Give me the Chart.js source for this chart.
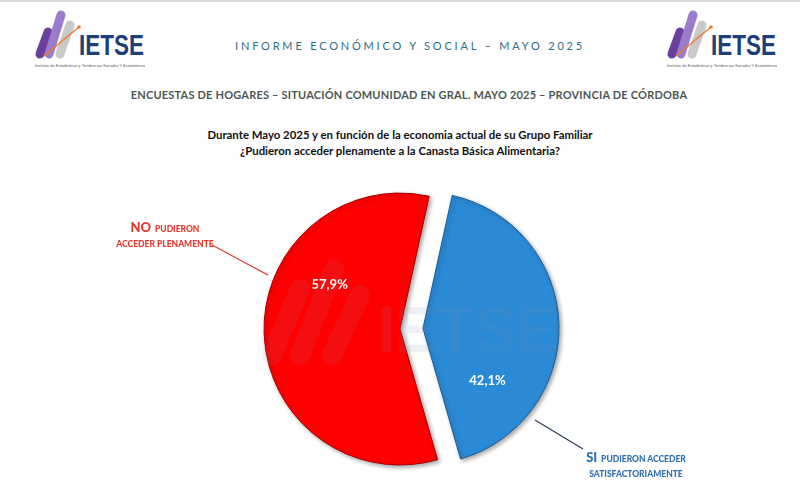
<!DOCTYPE html>
<html lang="es">
<head>
<meta charset="UTF-8">
<title>Canasta Básica Alimentaria - Mayo 2025</title>
<script src="https://cdn.jsdelivr.net/npm/chart.js"></script>
<style>
  html, body { margin: 0; padding: 0; background: #fff; }
  body { width: 800px; height: 499px; position: relative; overflow: hidden; font-family: Lato, "Open Sans", sans-serif; border-top: 2px solid #d9d9d9; box-sizing: border-box; }
  .abs { position: absolute; }
  .logo { position: absolute; top: 8px; width: 112px; height: 62px; }
  #h1 { left: 0; width: 820px; top: 37px; text-align: center; font-size: 11px; letter-spacing: 2.8px; color: #2f6c86; }
  #h2 { left: 0; width: 818px; top: 86px; text-align: center; font-size: 11px; font-weight: bold; color: #4b5753; letter-spacing: 0.2px; }
  #q { left: 0; width: 800px; top: 125px; text-align: center; font-size: 11.4px; font-weight: bold; color: #111; line-height: 16px; }
  #chartBox { left: 200px; top: 127px; width: 400px; height: 400px; }
  .lbl { font-weight: 900; text-align: center; line-height: 15px; }
  .lbl .big { font-size: 13px; }
  .lbl .sm { font-size: 8.5px; }
  #lblNo { left: 104px; top: 216px; width: 122px; color: #e8362b; }
  #lblSi { left: 570px; top: 446px; width: 132px; color: #2f6fae; }
  .lbl div { height: 15px; }
</style>
</head>
<body>
<svg class="logo" style="left:34px" viewBox="0 0 112 62" id="logoL"></svg>
<svg class="logo" style="left:666px" viewBox="0 0 112 62" id="logoR"></svg>

<div class="abs" id="h1">INFORME ECONÓMICO Y SOCIAL – MAYO 2025</div>
<div class="abs" id="h2">ENCUESTAS DE HOGARES – SITUACIÓN COMUNIDAD EN GRAL. MAYO 2025 – PROVINCIA DE CÓRDOBA</div>
<div class="abs" id="q">Durante Mayo 2025 y en función de la economia actual de su Grupo Familiar<br>¿Pudieron acceder plenamente a la Canasta Básica Alimentaria?</div>

<div class="abs" id="chartBox"><canvas id="pie"></canvas></div>

<svg class="abs" style="left:0;top:0" width="800" height="499">
  <line x1="212" y1="243" x2="268" y2="273" stroke="#e8362b" stroke-width="1.2"/>
  <line x1="535" y1="418" x2="583" y2="447" stroke="#2b3d5a" stroke-width="1.2"/>
</svg>

<div class="abs lbl" id="lblNo"><div><span class="big">NO</span> <span class="sm">PUDIERON</span></div><div><span class="sm">ACCEDER PLENAMENTE</span></div></div>
<div class="abs lbl" id="lblSi"><div><span class="big">SI</span> <span class="sm">PUDIERON ACCEDER</span></div><div><span class="sm">SATISFACTORIAMENTE</span></div></div>

<script>
// data
const categories = ["SI pudieron acceder satisfactoriamente", "NO pudieron acceder plenamente"];
const values = [42.1, 57.9];
const valueLabels = ["42,1%", "57,9%"];
const colors = ["#2a8ad6", "#ff0000"];
const borders = ["#1b5c93", "#a80000"];
const explode = [23, 0];            // px the slice is pulled out
// where the % text sits in each slice (screen degrees from +x, fraction of radius)
const labelAngles = [39, 212];
const labelDist = 0.61;

// logos
function drawLogo(svg) {
  svg.innerHTML =
    '<line x1="6" y1="44" x2="14" y2="22" stroke="#6a3f9e" stroke-width="9" stroke-linecap="round"/>' +
    '<line x1="15" y1="44" x2="27" y2="5" stroke="#9b7ccb" stroke-width="9" stroke-linecap="round"/>' +
    '<line x1="26" y1="44" x2="36" y2="15" stroke="#c9c9c9" stroke-width="9" stroke-linecap="round"/>' +
    '<line x1="10" y1="46" x2="45" y2="17" stroke="#f07a2a" stroke-width="1.4"/>' +
    '<circle cx="45" cy="17" r="1.8" fill="#f07a2a"/>' +
    '<text x="45" y="45" textLength="65" lengthAdjust="spacingAndGlyphs" font-family="Liberation Sans, Arial, sans-serif" font-weight="bold" font-size="29" fill="#1e3f78">IETSE</text>' +
    '<text x="1" y="57" textLength="110" lengthAdjust="spacingAndGlyphs" font-family="Liberation Sans, sans-serif" font-size="3.6" fill="#555">Instituto de Estadísticas y Tendencias Sociales Y Económicas</text>';
}
drawLogo(document.getElementById("logoL"));
drawLogo(document.getElementById("logoR"));

// pull slices out by moving the arc centre after each layout
const explodePlugin = {
  id: "explode",
  afterDatasetsUpdate(chart) {
    chart.getDatasetMeta(0).data.forEach((arc, i) => {
      const mid = (arc.startAngle + arc.endAngle) / 2;
      arc.x += Math.cos(mid) * explode[i];
      arc.y += Math.sin(mid) * explode[i];
    });
  }
};

const shadowPlugin = {
  id: "shadow",
  beforeDatasetsDraw(chart) {
    const ctx = chart.ctx;
    ctx.save();
    ctx.shadowColor = "rgba(0,0,0,0.35)";
    ctx.shadowBlur = 4;
    ctx.shadowOffsetX = 2;
    ctx.shadowOffsetY = 2;
  },
  afterDatasetsDraw(chart) {
    chart.ctx.restore();
  }
};

const valueLabelPlugin = {
  id: "valueLabels",
  afterDatasetsDraw(chart) {
    const ctx = chart.ctx;
    ctx.save();
    ctx.font = "bold 13px Lato, sans-serif";
    ctx.fillStyle = "#ffffff";
    ctx.textAlign = "center";
    ctx.textBaseline = "middle";
    chart.getDatasetMeta(0).data.forEach((arc, i) => {
      const a = labelAngles[i] * Math.PI / 180;
      const r = arc.outerRadius * labelDist;
      ctx.fillText(valueLabels[i], arc.x + Math.cos(a) * r, arc.y + Math.sin(a) * r);
    });
    ctx.restore();
  }
};

const watermarkPlugin = {
  id: "watermark",
  afterDraw(chart) {
    const ctx = chart.ctx;
    const x = chart.chartArea.left + chart.chartArea.width / 2;
    const y = chart.chartArea.top + chart.chartArea.height / 2;
    ctx.save();
    ctx.fillStyle = "rgba(125,140,170,0.13)";
    ctx.strokeStyle = "rgba(125,140,170,0.1)";
    ctx.lineCap = "round";
    ctx.lineWidth = 20;
    [[-128, 26, -100, -40], [-100, 26, -66, -60], [-68, 26, -40, -34]].forEach(b => {
      ctx.beginPath();
      ctx.moveTo(x + b[0], y + b[1]);
      ctx.lineTo(x + b[2], y + b[3]);
      ctx.stroke();
    });
    ctx.font = "bold 65px 'Liberation Sans', sans-serif";
    ctx.textBaseline = "alphabetic";
    ctx.textAlign = "left";
    const w = ctx.measureText("IETSE").width;
    ctx.translate(x - 22, y + 23);
    ctx.scale(180 / w, 1);
    ctx.fillText("IETSE", 0, 0);
    ctx.restore();
  }
};

new Chart(document.getElementById("pie"), {
  type: "pie",
  data: {
    labels: categories,
    datasets: [{
      data: values,
      backgroundColor: colors,
      borderColor: borders,
      borderWidth: 1,
      hoverOffset: 0
    }]
  },
  options: {
    responsive: true,
    maintainAspectRatio: false,
    animation: false,
    rotation: 12.4,
    radius: 136,
    layout: { padding: 0 },
    plugins: {
      legend: { display: false },
      tooltip: { enabled: false }
    }
  },
  plugins: [explodePlugin, shadowPlugin, valueLabelPlugin, watermarkPlugin]
});
</script>
</body>
</html>
